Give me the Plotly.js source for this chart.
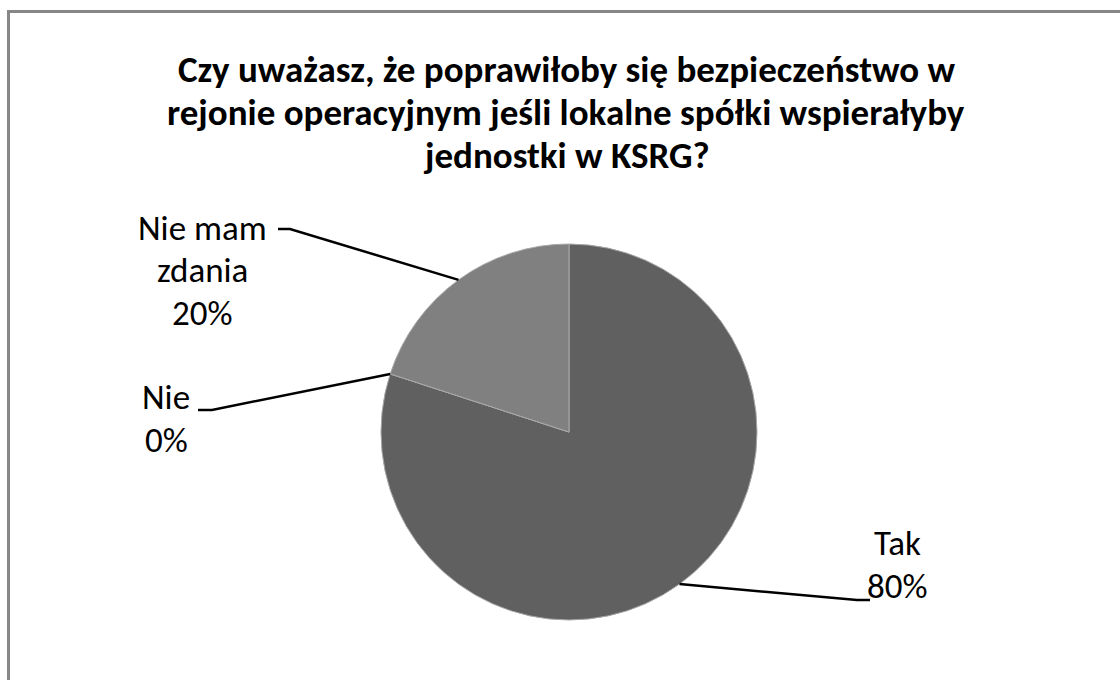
<!DOCTYPE html>
<html>
<head>
<meta charset="utf-8">
<script src="https://cdn.plot.ly/plotly-3.0.1.min.js"></script>
<style>
  html, body { margin: 0; padding: 0; background: #fff; }
  #wrap { position: relative; width: 1120px; height: 680px; overflow: hidden; }
  #frame { position: absolute; left: 7px; top: 10px; width: 1300px; height: 900px;
           border-top: 3px solid #878787; border-left: 3px solid #878787; }
  #chart { position: absolute; left: 0; top: 0; width: 1120px; height: 680px; }
</style>
</head>
<body>
<div id="wrap"><div id="frame"></div><div id="chart"></div></div>
<script>
// Data
const categories = ['Tak', 'Nie', 'Nie mam zdania'];
const values = [80, 0, 20];
const labelLines = [['Tak'], ['Nie'], ['Nie mam', 'zdania']];
const colors = ['#606060', '#707070', '#808080'];
const titleLines = [
  'Czy uważasz, że poprawiłoby się bezpieczeństwo w',
  'rejonie operacyjnym jeśli lokalne spółki wspierałyby',
  'jednostki w KSRG?'
];

// Layout config (pixel positions)
const W = 1120, H = 680;
const cx = 569, cy = 432, R = 188;
const labelCfg = [
  { elbow: [857, 600], end: [870, 600], x: 897, y0: 543 },
  { elbow: [212, 410], end: [198, 410], x: 166, y0: 397 },
  { elbow: [290, 229], end: [278, 229], x: 202, y0: 228 }
];
const labelStep = 42.5;
const titleX = 566, titleY0 = 70, titleStep = 43;
const px = x => x / W;
const py = y => 1 - y / H;
const font = 'Carlito, Calibri, "Liberation Sans Narrow", "Open Sans", sans-serif';

const total = values.reduce((a, b) => a + b, 0);
let cum = 0;
const shapes = [], annotations = [];
values.forEach((v, i) => {
  const mid = (cum + v / 2) / total * 2 * Math.PI;
  cum += v;
  const sx = cx + R * Math.sin(mid), sy = cy - R * Math.cos(mid);
  const c = labelCfg[i];
  shapes.push({
    type: 'path', xref: 'paper', yref: 'paper',
    path: `M ${px(sx)},${py(sy)} L ${px(c.elbow[0])},${py(c.elbow[1])} L ${px(c.end[0])},${py(c.end[1])}`,
    line: { color: '#000', width: 2.5 }
  });
  const pct = Math.round(v / total * 100) + '%';
  labelLines[i].concat([pct]).forEach((t, k) => {
    annotations.push({
      xref: 'paper', yref: 'paper', x: px(c.x), y: py(c.y0 + k * labelStep),
      xanchor: 'center', yanchor: 'middle', align: 'center', showarrow: false,
      text: t,
      font: { family: font, size: 35, color: '#000' }
    });
  });
});

titleLines.forEach((t, k) => {
  annotations.push({
    xref: 'paper', yref: 'paper', x: px(titleX), y: py(titleY0 + k * titleStep),
    xanchor: 'center', yanchor: 'middle', align: 'center', showarrow: false,
    text: '<b>' + t + '</b>',
    font: { family: font, size: 37, color: '#000' }
  });
});

const trace = {
  type: 'pie',
  labels: categories,
  values: values,
  sort: false,
  direction: 'clockwise',
  rotation: 0,
  textinfo: 'none',
  hoverinfo: 'label+percent',
  marker: { colors: colors, line: { color: '#a8a8a8', width: 1 } },
  domain: { x: [px(cx - R), px(cx + R)], y: [py(cy + R), py(cy - R)] },
  showlegend: false
};

const layout = {
  width: W, height: H,
  margin: { l: 0, r: 0, t: 0, b: 0 },
  paper_bgcolor: 'rgba(0,0,0,0)',
  plot_bgcolor: 'rgba(0,0,0,0)',
  showlegend: false,
  shapes: shapes,
  annotations: annotations
};

Plotly.newPlot('chart', [trace], layout, { displayModeBar: false, staticPlot: true });
</script>
</body>
</html>
